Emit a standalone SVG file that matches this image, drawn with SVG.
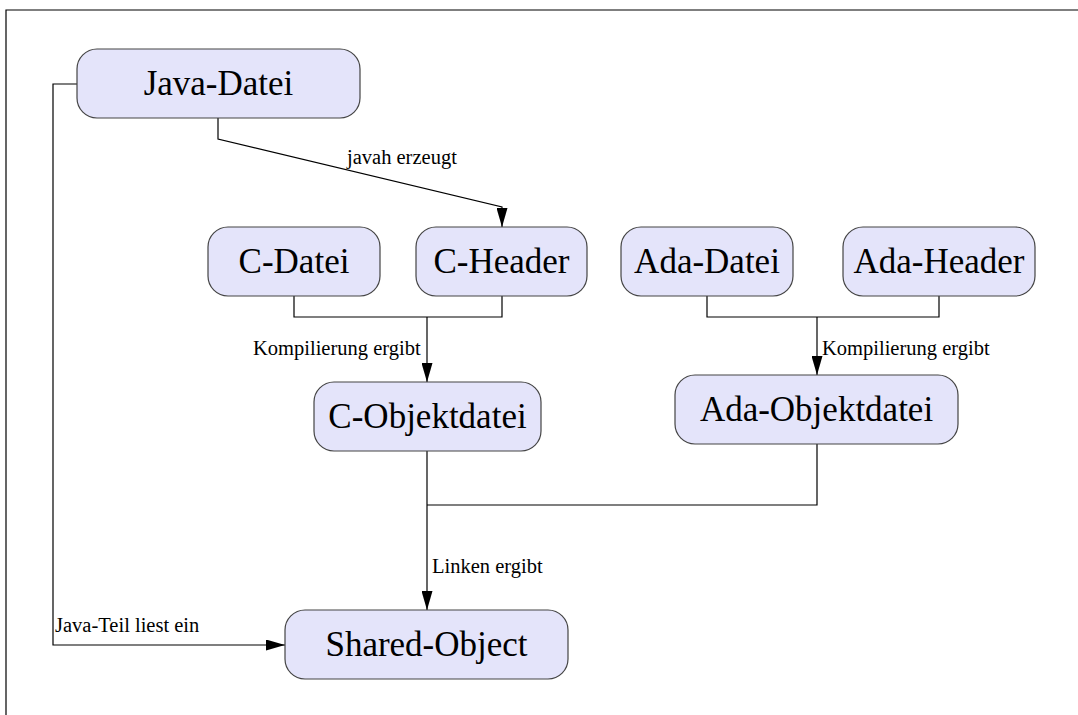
<svg xmlns="http://www.w3.org/2000/svg" width="1078" height="715" viewBox="0 0 1078 715">
  <style>
    .node rect { fill: #e4e4fa; stroke: #444; stroke-width: 1.2; }
    .node text { font-family: "Liberation Serif", "Times New Roman", serif; font-size: 35px; fill: #000; text-anchor: middle; }
    .edge { fill: none; stroke: #000; stroke-width: 1.2; }
    .lbl { font-family: "Liberation Serif", "Times New Roman", serif; font-size: 20.5px; fill: #000; }
    .frame { fill: none; stroke: #000; stroke-width: 1.2; }
  </style>
  <defs>
    <marker id="arrow" markerUnits="userSpaceOnUse" markerWidth="19" markerHeight="11" viewBox="0 0 19 11" refX="19" refY="5.5" orient="auto">
      <path d="M0,0 L19,5.5 L0,11 z" fill="#000"/>
    </marker>
  </defs>

  <rect width="1078" height="715" fill="#fff"/>
  <!-- page frame (top and left edges) -->
  <path class="frame" d="M6,715 V10 H1078"/>

  <g id="connectors">
    <!-- Java-Datei to Shared-Object -->
    <path class="edge" d="M77,84 H53 V645 H285" marker-end="url(#arrow)"/>
    <text class="lbl" x="55" y="632">Java-Teil liest ein</text>
    <!-- Java-Datei to C-Header -->
    <path class="edge" d="M218,118 V139 L502,207 V227" marker-end="url(#arrow)"/>
    <text class="lbl" x="347" y="164">javah erzeugt</text>
    <!-- C sources to C-Objektdatei -->
    <path class="edge" d="M294,296 V317 H502 V296"/>
    <path class="edge" d="M427,317 V382" marker-end="url(#arrow)"/>
    <text class="lbl" x="253" y="355">Kompilierung ergibt</text>
    <!-- Ada sources to Ada-Objektdatei -->
    <path class="edge" d="M707,296 V317 H939 V296"/>
    <path class="edge" d="M817,317 V375" marker-end="url(#arrow)"/>
    <text class="lbl" x="822" y="355">Kompilierung ergibt</text>
    <!-- object files to Shared-Object -->
    <path class="edge" d="M817,444 V505 H427"/>
    <path class="edge" d="M427,451 V610" marker-end="url(#arrow)"/>
    <text class="lbl" x="432" y="573">Linken ergibt</text>
  </g>

  <g id="java-datei" class="node">
    <rect x="77" y="49" width="283" height="69" rx="20" ry="20"/>
    <text x="218.5" y="95">Java-Datei</text>
  </g>
  <g id="c-datei" class="node">
    <rect x="208" y="227" width="172" height="69" rx="20" ry="20"/>
    <text x="294" y="273">C-Datei</text>
  </g>
  <g id="c-header" class="node">
    <rect x="416" y="227" width="171" height="69" rx="20" ry="20"/>
    <text x="501.5" y="273">C-Header</text>
  </g>
  <g id="ada-datei" class="node">
    <rect x="621" y="227" width="172" height="69" rx="20" ry="20"/>
    <text x="707" y="273">Ada-Datei</text>
  </g>
  <g id="ada-header" class="node">
    <rect x="843" y="227" width="192" height="69" rx="20" ry="20"/>
    <text x="939" y="273">Ada-Header</text>
  </g>
  <g id="c-objektdatei" class="node">
    <rect x="314" y="382" width="227" height="69" rx="20" ry="20"/>
    <text x="427.5" y="428">C-Objektdatei</text>
  </g>
  <g id="ada-objektdatei" class="node">
    <rect x="675" y="375" width="283" height="69" rx="20" ry="20"/>
    <text x="816.5" y="421">Ada-Objektdatei</text>
  </g>
  <g id="shared-object" class="node">
    <rect x="285" y="610" width="283" height="69" rx="20" ry="20"/>
    <text x="426.5" y="656">Shared-Object</text>
  </g>
</svg>
